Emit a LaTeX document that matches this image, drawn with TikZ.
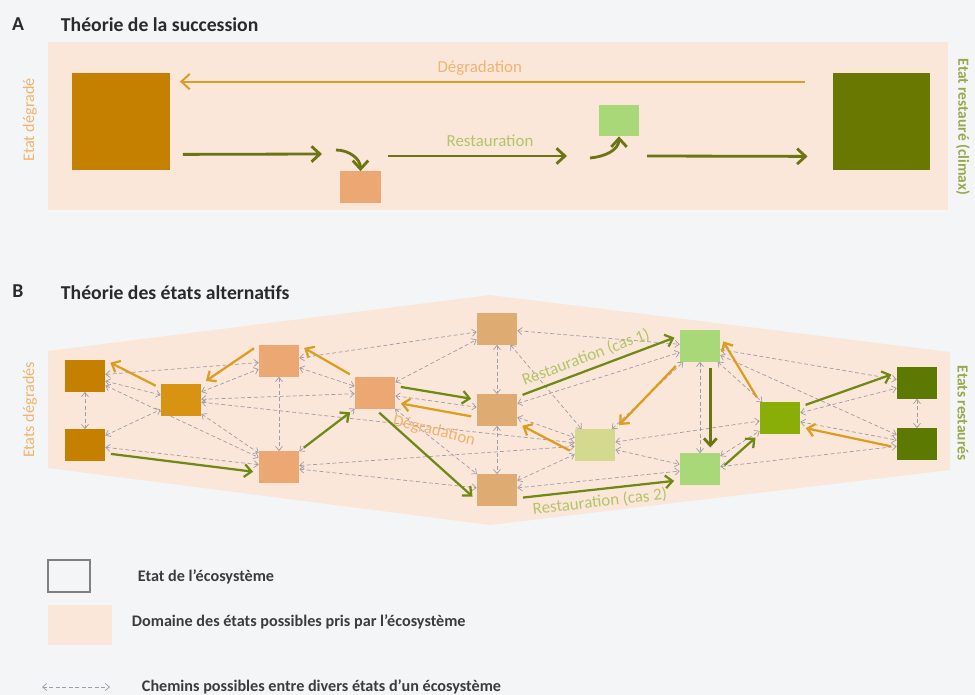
\documentclass[tikz,border=0pt]{standalone}
\usepackage{fontspec}
\setmainfont{Carlito}
\usepackage{xcolor}
\usepackage{tikz}
\usetikzlibrary{shapes,arrows,arrows.meta,positioning,calc}
\definecolor{pageBg}{HTML}{F4F5F7}
\definecolor{domainFill}{HTML}{FBE7DA}
\definecolor{degDark}{HTML}{C58000}
\definecolor{degMid}{HTML}{D99312}
\definecolor{salmonFill}{HTML}{EBA873}
\definecolor{tanFill}{HTML}{DEAC73}
\definecolor{paleGreen}{HTML}{D3D98F}
\definecolor{lightGreen}{HTML}{A9D879}
\definecolor{midGreen}{HTML}{8AAE08}
\definecolor{darkGreen}{HTML}{5C7A02}
\definecolor{climaxGreen}{HTML}{697800}
\definecolor{degStroke}{HTML}{DC9E22}
\definecolor{restStroke}{HTML}{6E8914}
\definecolor{restDark}{HTML}{6B7512}
\definecolor{degText}{HTML}{F0B46E}
\definecolor{restText}{HTML}{B4C466}
\definecolor{restLabel}{HTML}{97A94E}
\definecolor{pathGray}{HTML}{9E9CA6}
\definecolor{titleText}{HTML}{2A2A2A}
\definecolor{legendText}{HTML}{3C3C3C}

\begin{document}
\begin{tikzpicture}[
    x=0.025cm, y=-0.025cm,
    ecostate/.style={rectangle, inner sep=0pt, minimum width=1cm, minimum height=0.78cm},
    bigstate/.style={rectangle, inner sep=0pt, minimum size=2.43cm},
    heading/.style={font=\fontsize{14}{16}\selectfont\bfseries, text=titleText},
    sidelabel/.style={font=\fontsize{11.5}{13}\selectfont},
    arrowtag/.style={font=\fontsize{12}{14}\selectfont, inner sep=1pt},
    legendtxt/.style={font=\fontsize{11.5}{13}\selectfont\bfseries, text=legendText, anchor=west},
    route/.style={pathGray, line width=0.5pt, dash pattern=on 2.8pt off 1.8pt, {Straight Barb[length=3pt,width=5pt]}-{Straight Barb[length=3pt,width=5pt]}},
    degarrow/.style={-{Straight Barb[length=5pt,width=9pt]}, degStroke, line width=1.6pt, shorten <=4pt, shorten >=4pt},
    resarrow/.style={-{Straight Barb[length=5pt,width=9pt]}, restStroke, line width=1.6pt, shorten <=4pt, shorten >=4pt},
    succarrow/.style={-{Straight Barb[length=6pt,width=11pt]}, restDark, line width=2pt},
]

    \useasboundingbox (0,0) rectangle (975,695);
    \fill[pageBg] (0,0) rectangle (975,695);

    % Panel A
    \node[heading] (letA) at (18,24) {A};
    \node[heading, anchor=west] (ttlA) at (56,25) {Théorie de la succession};
    \fill[domainFill] (48,42) rectangle (948,210);

    \node[bigstate, fill=degDark] (degA) at (121,121.5) {};
    \node[bigstate, fill=climaxGreen] (climA) at (881.5,121.5) {};
    \node[ecostate, fill=salmonFill] (salA) at (360.5,187) {};
    \node[ecostate, fill=lightGreen] (lgA) at (619,120.5) {};

    \node[sidelabel, rotate=90, text=degText] (sideA1) at (30,120) {Etat dégradé};
    \node[sidelabel, rotate=-90, text=restLabel, font=\fontsize{11}{13}\selectfont\bfseries] (sideA2) at (963,127) {Etat restauré (climax)};

    \coordinate (r1) at (322,154);
    \coordinate (k1) at (336,150);
    \coordinate (r2s) at (388,156);
    \coordinate (r2e) at (567,156);
    \coordinate (k2) at (590,158);
    \coordinate (r3s) at (647,156);

    \draw[-{Straight Barb[length=6pt,width=11pt]}, degStroke, line width=1.4pt] ($(climA.north west)+(-28,9)$) -- node[arrowtag, above=3pt, pos=0.52, text=degText] {Dégradation} ($(degA.north east)+(10,9)$);
    \draw[succarrow] ($(degA.south east)+(13,-16)$) -- (r1);
    \draw[succarrow] (k1) to[out=0, in=90] (salA.north);
    \draw[succarrow] (r2s) -- node[arrowtag, above=5pt, pos=0.57, text=restText] {Restauration} (r2e);
    \draw[succarrow] (k2) to[out=5, in=-90] (lgA.south);
    \draw[succarrow] (r3s) -- ($(climA.south west)+(-25,-14)$);

    % Panel B
    \node[heading] (letB) at (18,291) {B};
    \node[heading, anchor=west] (ttlB) at (56,293) {Théorie des états alternatifs};
    \fill[domainFill] (48,351) -- (490,295) -- (950,352) -- (950,470) -- (490,525) -- (48,468) -- cycle;

    \node[sidelabel, rotate=90, text=degText] (sideB1) at (30,410) {Etats dégradés};
    \node[sidelabel, rotate=-90, text=restLabel, font=\fontsize{11}{13}\selectfont\bfseries] (sideB2) at (963,413) {Etats restaurés};

    % Nodes
    \node[ecostate, fill=degDark] (da) at (85,376) {};
    \node[ecostate, fill=degDark] (db) at (85,445) {};
    \node[ecostate, fill=degMid] (oa) at (181,400) {};
    \node[ecostate, fill=salmonFill] (sa) at (279,361) {};
    \node[ecostate, fill=salmonFill] (sb) at (279,467) {};
    \node[ecostate, fill=salmonFill] (sc) at (375,393) {};
    \node[ecostate, fill=tanFill] (ta) at (497,329) {};
    \node[ecostate, fill=tanFill] (tb) at (497,410) {};
    \node[ecostate, fill=tanFill] (tc) at (497,490) {};
    \node[ecostate, fill=paleGreen] (ya) at (595,445) {};
    \node[ecostate, fill=lightGreen] (ga) at (700,346) {};
    \node[ecostate, fill=lightGreen] (gb) at (700,469) {};
    \node[ecostate, fill=midGreen] (gc) at (780,418) {};
    \node[ecostate, fill=darkGreen] (ra) at (917,383) {};
    \node[ecostate, fill=darkGreen] (rb) at (917,444) {};

    % Possible paths
    \draw[route] (da) -- (db);
    \draw[route] (da) -- (oa);
    \draw[route] (da) -- (sa);
    \draw[route] (da) -- (sb);
    \draw[route] (db) -- (oa);
    \draw[route] (db) -- (sb);
    \draw[route] (oa) -- (sa);
    \draw[route] (oa) -- (sc);
    \draw[route] (oa) -- (sb);
    \draw[route] (oa) -- (ya);
    \draw[route] (sa) -- (sb);
    \draw[route] (sa) -- (sc);
    \draw[route] (sa) -- (ta);
    \draw[route] (sb) -- (sc);
    \draw[route] (sb) -- (tc);
    \draw[route] (sb) -- (ya);
    \draw[route] (sc) -- (ta);
    \draw[route] (sc) -- (tb);
    \draw[route] (sc) -- (tc);
    \draw[route] (ta) -- (tb);
    \draw[route] (tb) -- (tc);
    \draw[route] (ta) -- (ga);
    \draw[route] (ta) -- (ya);
    \draw[route] (tb) -- (ga);
    \draw[route] (tb) -- (ya);
    \draw[route] (tc) -- (ya);
    \draw[route] (tc) -- (gb);
    \draw[route] (ya) -- (ga);
    \draw[route] (ya) -- (gb);
    \draw[route] (ya) -- (gc);
    \draw[route] (ga) -- (gb);
    \draw[route] (ga) -- (gc);
    \draw[route] (ga) -- (ra);
    \draw[route] (ga) -- (rb);
    \draw[route] (gb) -- (gc);
    \draw[route] (gb) -- (rb);
    \draw[route] (gc) -- (ra);
    \draw[route] (gc) -- (rb);
    \draw[route] (ra) -- (rb);

    % Degradation
    \draw[degarrow] (oa.150) -- (da.north east);
    \draw[degarrow] (sa.north west) -- (oa.north east);
    \draw[degarrow] (sc.north west) -- (sa.north east);
    \draw[degarrow] (tb.200) -- (sc.-25);
    \draw[degarrow] (ya.202) -- (tb.-33);
    \draw[degarrow] (ga.south west) -- (ya.north east);
    \draw[degarrow] (gc.north west) -- (ga.25);
    \draw[degarrow] (rb.190) -- (gc.-24);
    \node[arrowtag, rotate=-14, text=degText] (tagDeg) at (434,431) {Dégradation};

    % Restoration
    \draw[resarrow] (db.-22) -- (sb.195);
    \draw[resarrow] (sb.north east) -- (sc.south west);
    \draw[resarrow] (sc.19) -- (tb.153);
    \draw[resarrow] (sc.south) -- (tc.207);
    \draw[resarrow] (tb.33) -- node[arrowtag, sloped, above=2pt, pos=0.45, text=restText] {Restauration (cas 1)} (ga.153);
    \draw[resarrow] (tc.-22) -- node[arrowtag, sloped, below=2pt, pos=0.5, text=restText] {Restauration (cas 2)} (gb.209);
    \draw[resarrow, restDark, line width=2pt] (ga.-57) -- (gb.57);
    \draw[resarrow] (gb.east) -- (gc.south west);
    \draw[resarrow] (gc.29) -- (ra.153);

    % Legend
    \node[draw=gray, line width=0.8pt, minimum width=1.05cm, minimum height=0.8cm, inner sep=0pt] (lgState) at (69,576) {};
    \node[legendtxt] (lgStateTxt) at (133,577) {Etat de l’écosystème};
    \node[fill=domainFill, minimum width=1.6cm, minimum height=1cm, inner sep=0pt] (lgDomain) at (80,625) {};
    \node[legendtxt] (lgDomainTxt) at (127,622) {Domaine des états possibles pris par l’écosystème};
    \coordinate (lgP1) at (42,687);
    \coordinate (lgP2) at (110,687);
    \draw[route] (lgP1) -- (lgP2);
    \node[legendtxt] (lgRouteTxt) at (137,687) {Chemins possibles entre divers états d’un écosystème};

\end{tikzpicture}
\end{document}
